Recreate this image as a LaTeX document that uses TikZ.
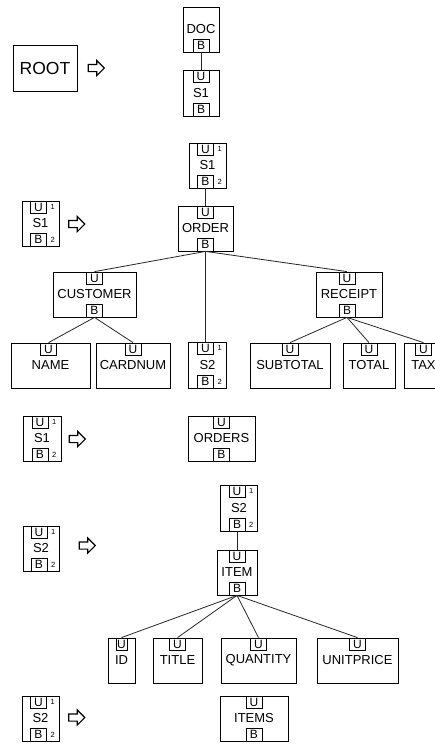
\documentclass[tikz,border=0pt]{standalone}
\usepackage{fontspec}
\setmainfont{Liberation Sans}
\usepackage{tikz}
\usetikzlibrary{shapes.arrows, positioning}
\tikzstyle{line} = [line width=0.8pt, draw=black!85]
\tikzstyle{elem} = [rectangle, draw=black, line width=0.8pt, inner sep=0pt, minimum height=45pt, font=\fontsize{13}{13}\selectfont]
\tikzstyle{port} = [rectangle, draw=black, line width=0.8pt, inner sep=0pt, minimum width=16pt, minimum height=12.5pt, font=\fontsize{12}{12}\selectfont]
\tikzstyle{num} = [inner sep=0pt, font=\fontsize{7.5}{7.5}\selectfont]
\tikzstyle{goesto} = [single arrow, draw=black, line width=1.1pt, inner xsep=0pt, inner ysep=3pt, minimum height=16pt, single arrow head extend=4pt, single arrow head indent=0pt]

\begin{document}
\begin{tikzpicture}[x=1pt, y=-1pt]
\useasboundingbox (0,0) rectangle (435,745);
\clip (0,0) rectangle (435,745);

% ROOT => DOC / S1
\node[elem, minimum width=64pt, minimum height=46pt, font=\fontsize{17.5}{17.5}\selectfont] (root) at (45,68) {ROOT};
\node[goesto] (arrRoot) at (94.5,68) {};
\node[elem, minimum width=36pt] (doc) at (201,29.5) {DOC};
\node[port, anchor=south] (docB) at (doc.south) {B};
\node[elem, minimum width=36pt, minimum height=46pt] (sOne) at (201,93) {S1};
\node[port, anchor=north] (sOneU) at (sOne.north) {U};
\node[port, anchor=south] (sOneB) at (sOne.south) {B};
\draw[line] (docB.south) -- (sOneU.north);

% S1 => ORDER tree
\node[elem, minimum width=37pt] (sOneL) at (40.5,223.5) {S1};
\node[port, anchor=north] (sOneLU) at ([xshift=-2pt]sOneL.north) {U};
\node[port, anchor=south] (sOneLB) at ([xshift=-2pt]sOneL.south) {B};
\node[num, right=3.5pt of sOneLU] {1};
\node[num, right=3.5pt of sOneLB] {2};
\node[goesto] (arrOrder) at (75,224) {};

\node[elem, minimum width=37pt] (sOneT) at (207.5,165.5) {S1};
\node[port, anchor=north] (sOneTU) at ([xshift=-2pt]sOneT.north) {U};
\node[port, anchor=south] (sOneTB) at ([xshift=-2pt]sOneT.south) {B};
\node[num, right=3.5pt of sOneTU] {1};
\node[num, right=3.5pt of sOneTB] {2};

\node[elem, minimum width=55pt] (order) at (205.5,228.5) {ORDER};
\node[port, anchor=north] (orderU) at (order.north) {U};
\node[port, anchor=south] (orderB) at (order.south) {B};

\node[elem, minimum width=83pt] (customer) at (94.5,294.5) {CUSTOMER};
\node[port, anchor=north] (customerU) at (customer.north) {U};
\node[port, anchor=south] (customerB) at (customer.south) {B};
\node[elem, minimum width=66pt] (receipt) at (349,294.5) {RECEIPT};
\node[port, anchor=north] (receiptU) at ([xshift=-2pt]receipt.north) {U};
\node[port, anchor=south] (receiptB) at ([xshift=-2pt]receipt.south) {B};

\node[elem, minimum width=79pt] (name) at (50.5,365.5) {NAME};
\node[port, anchor=north] (nameU) at ([xshift=-2pt]name.north) {U};
\node[elem, minimum width=74pt] (cardnum) at (133,365.5) {CARDNUM};
\node[port, anchor=north] (cardnumU) at (cardnum.north) {U};
\node[elem, minimum width=38pt, minimum height=46pt] (sTwo) at (207.5,365) {S2};
\node[port, anchor=north] (sTwoU) at ([xshift=-2pt]sTwo.north) {U};
\node[port, anchor=south] (sTwoB) at ([xshift=-2pt]sTwo.south) {B};
\node[num, right=3.5pt of sTwoU] {1};
\node[num, right=3.5pt of sTwoB] {2};
\node[elem, minimum width=80pt] (subtotal) at (290,365.5) {SUBTOTAL};
\node[port, anchor=north] (subtotalU) at (subtotal.north) {U};
\node[elem, minimum width=52pt] (total) at (369,365.5) {TOTAL};
\node[port, anchor=north] (totalU) at (total.north) {U};
\node[elem, minimum width=39pt] (tax) at (423.5,365.5) {TAX};
\node[port, anchor=north] (taxU) at (tax.north) {U};

\draw[line] (sOneTB.south) -- (orderU.north);
\draw[line] (orderB.south) -- (customerU.north);
\draw[line] (orderB.south) -- (receiptU.north);
\draw[line] (orderB.south) -- (sTwoU.north);
\draw[line] (customerB.south) -- (nameU.north);
\draw[line] (customerB.south) -- (cardnumU.north);
\draw[line] (receiptB.south) -- (subtotalU.north);
\draw[line] (receiptB.south) -- (totalU.north);
\draw[line] (receiptB.south) -- (taxU.north);

% S1 => ORDERS
\node[elem, minimum width=38pt] (sOneM) at (42,438.5) {S1};
\node[port, anchor=north] (sOneMU) at ([xshift=-2pt]sOneM.north) {U};
\node[port, anchor=south] (sOneMB) at ([xshift=-2pt]sOneM.south) {B};
\node[num, right=3.5pt of sOneMU] {1};
\node[num, right=3.5pt of sOneMB] {2};
\node[goesto] (arrOrders) at (75.5,439) {};
\node[elem, minimum width=67pt] (orders) at (221.5,438.5) {ORDERS};
\node[port, anchor=north] (ordersU) at (orders.north) {U};
\node[port, anchor=south] (ordersB) at (orders.south) {B};

% S2 => ITEM tree
\node[elem, minimum width=36pt] (sTwoL) at (41,548.5) {S2};
\node[port, anchor=north] (sTwoLU) at ([xshift=-2pt]sTwoL.north) {U};
\node[port, anchor=south] (sTwoLB) at ([xshift=-2pt]sTwoL.south) {B};
\node[num, right=3.5pt of sTwoLU] {1};
\node[num, right=3.5pt of sTwoLB] {2};
\node[goesto] (arrItem) at (85.5,545.5) {};

\node[elem, minimum width=37pt, minimum height=46pt] (sTwoT) at (239,508) {S2};
\node[port, anchor=north] (sTwoTU) at ([xshift=-2pt]sTwoT.north) {U};
\node[port, anchor=south] (sTwoTB) at ([xshift=-2pt]sTwoT.south) {B};
\node[num, right=3.5pt of sTwoTU] {1};
\node[num, right=3.5pt of sTwoTB] {2};

\node[elem, minimum width=40pt] (item) at (237,572.5) {ITEM};
\node[port, anchor=north] (itemU) at (item.north) {U};
\node[port, anchor=south] (itemB) at (item.south) {B};

\node[elem, minimum width=27pt] (id) at (121.5,660.5) {ID};
\node[port, anchor=north, minimum width=11pt] (idU) at (id.north) {U};
\node[elem, minimum width=49pt] (title) at (177.5,660.5) {TITLE};
\node[port, anchor=north] (titleU) at (title.north) {U};
\node[elem, minimum width=75pt] (quantity) at (258.5,660.5) {QUANTITY};
\node[port, anchor=north] (quantityU) at (quantity.north) {U};
\node[elem, minimum width=81pt] (unitprice) at (357.5,660.5) {UNITPRICE};
\node[port, anchor=north] (unitpriceU) at (unitprice.north) {U};

\draw[line] (sTwoTB.south) -- (itemU.north);
\draw[line] (itemB.south) -- (idU.north);
\draw[line] (itemB.south) -- (titleU.north);
\draw[line] (itemB.south) -- (quantityU.north);
\draw[line] (itemB.south) -- (unitpriceU.north);

% S2 => ITEMS
\node[elem, minimum width=37pt] (sTwoB) at (40.5,718.5) {S2};
\node[port, anchor=north] (sTwoBU) at ([xshift=-2pt]sTwoB.north) {U};
\node[port, anchor=south] (sTwoBB) at ([xshift=-2pt]sTwoB.south) {B};
\node[num, right=3.5pt of sTwoBU] {1};
\node[num, right=3.5pt of sTwoBB] {2};
\node[goesto] (arrItems) at (75,717.5) {};
\node[elem, minimum width=68pt] (items) at (254,718.5) {ITEMS};
\node[port, anchor=north] (itemsU) at (items.north) {U};
\node[port, anchor=south] (itemsB) at (items.south) {B};

\end{tikzpicture}
\end{document}
